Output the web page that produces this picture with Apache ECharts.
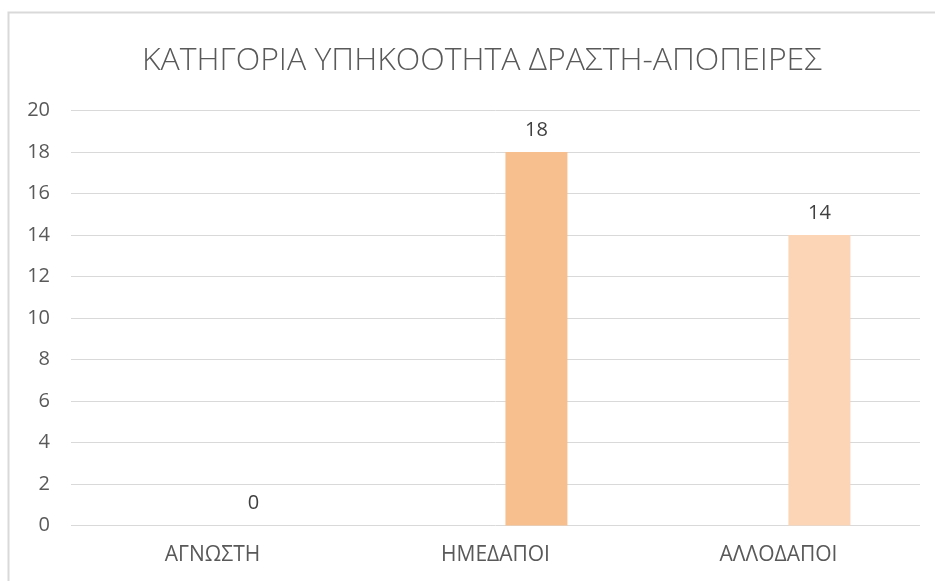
<!DOCTYPE html>
<html>
<head>
<meta charset="utf-8">
<script src="https://cdn.jsdelivr.net/npm/echarts@6/dist/echarts.min.js"></script>
<style>
html,body{margin:0;padding:0;background:#fff;}
#chart{width:935px;height:581px;}
</style>
</head>
<body>
<div id="chart"></div>
<script>
const titleText = 'ΚΑΤΗΓΟΡΙΑ ΥΠΗΚΟΟΤΗΤΑ ΔΡΑΣΤΗ-ΑΠΟΠΕΙΡΕΣ';
const categories = ['ΑΓΝΩΣΤΗ', 'ΗΜΕΔΑΠΟΙ', 'ΑΛΛΟΔΑΠΟΙ'];
const values = [0, 18, 14];
const barColors = ['#F8BF8E', '#F8BF8E', '#FBD5B5'];
const yTicks = {min: 0, max: 20, interval: 2};

const FONT = 'Open Sans';
const chart = echarts.init(document.getElementById('chart'), null, {renderer: 'canvas'});
chart.setOption({
  animation: false,
  backgroundColor: '#ffffff',
  graphic: [{
    type: 'rect',
    silent: true,
    shape: {x: 8.5, y: 12.5, width: 1000, height: 1000},
    style: {fill: 'none', stroke: '#d9d9d9', lineWidth: 2}
  }],
  title: {
    text: titleText,
    left: 137,
    top: 40,
    textStyle: {fontFamily: FONT, fontWeight: 300, fontSize: 32, color: '#595959'}
  },
  grid: {left: 71, right: 15, top: 110.5, bottom: 55.5, containLabel: false},
  xAxis: {
    type: 'category',
    data: categories,
    axisLine: {show: false},
    axisTick: {show: false},
    axisLabel: {fontFamily: FONT, fontSize: 21, color: '#595959', margin: 19}
  },
  yAxis: {
    type: 'value',
    min: yTicks.min, max: yTicks.max, interval: yTicks.interval,
    axisLine: {show: false},
    axisTick: {show: false},
    axisLabel: {fontFamily: FONT, fontSize: 20, color: '#595959', margin: 21},
    splitLine: {lineStyle: {color: '#d9d9d9', width: 1}}
  },
  series: [
    {type: 'bar', name: 'ghost', data: categories.map(() => null), barWidth: 62, barGap: '32%', silent: true},
    {
      type: 'bar', name: 'values', barWidth: 62, barGap: '32%',
      data: values.map((v, i) => ({value: v, itemStyle: {color: barColors[i]}})),
      label: {show: true, position: 'top', distance: 12, fontFamily: FONT, fontSize: 20, color: '#404040'}
    }
  ]
});
</script>
</body>
</html>
